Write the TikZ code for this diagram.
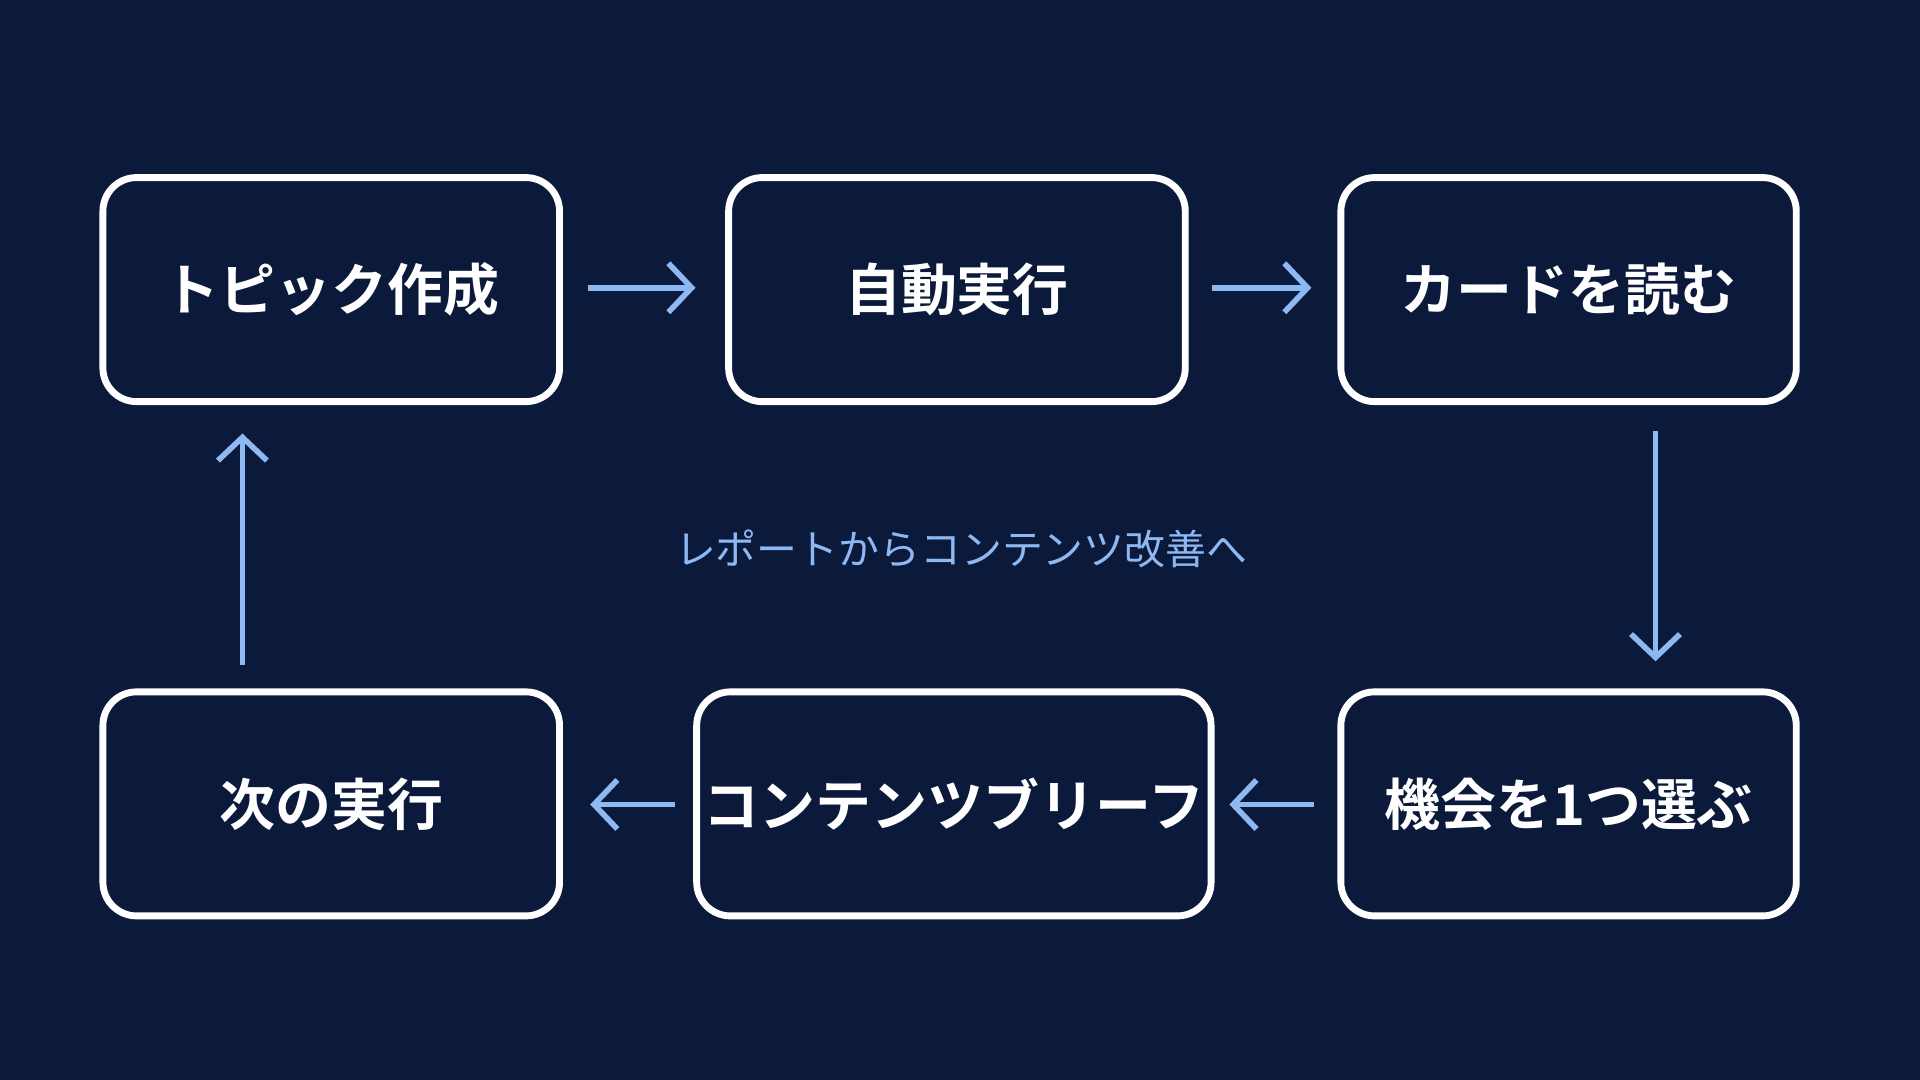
\documentclass[tikz,border=0pt]{standalone}
\usepackage{fontspec}
\setmainfont{Noto Sans CJK JP}
\newfontfamily\jpb{Noto Sans CJK JP Bold}
\usetikzlibrary{arrows.meta}
\definecolor{bg}{HTML}{0B1A3B}
\definecolor{ac}{HTML}{8DB8F2}
\begin{document}
\begin{tikzpicture}[x=0.02cm,y=-0.02cm,
  box/.style={draw=white,line width=3.2pt,rounded corners=0.55cm,text=white,font=\jpb\fontsize{26}{30}\selectfont},
  arr/.style={draw=ac,line width=2.6pt,-{Straight Barb[length=0.38cm,width=0.8cm,line width=2.6pt]}}]
\fill[bg] (0,0) rectangle (1568,882);
\useasboundingbox (0,0) rectangle (1568,882);
\newcommand{\bx}[5]{\node[box,minimum width=#3*0.02cm,minimum height=183*0.02cm] (#1) at (#2) {#4};}
\node[box,minimum width=7.46cm,minimum height=3.66cm] (a) at (270.5,236.5) {トピック作成};
\node[box,minimum width=7.46cm,minimum height=3.66cm] (b) at (781.5,236.5) {自動実行};
\node[box,minimum width=7.44cm,minimum height=3.66cm] (c) at (1281,236.5) {カードを読む};
\node[box,minimum width=7.44cm,minimum height=3.66cm] (f) at (1281,656.5) {機会を1つ選ぶ};
\node[box,minimum width=8.24cm,minimum height=3.66cm] (e) at (779,656.5) {コンテンツブリーフ};
\node[box,minimum width=7.46cm,minimum height=3.66cm] (d) at (270.5,656.5) {次の実行};
\node[text=ac,font=\fontsize{19}{23}\selectfont] (t) at (785,448) {レポートからコンテンツ改善へ};
\coordinate (a1) at (480,235); \coordinate (a2) at (568,235);
\coordinate (b1) at (990,235); \coordinate (b2) at (1071,235);
\coordinate (c1) at (1352,352); \coordinate (c2) at (1352,540);
\coordinate (f1) at (1073,657); \coordinate (f2) at (1004,657);
\coordinate (e1) at (551,657); \coordinate (e2) at (482,657);
\coordinate (d1) at (198,543); \coordinate (d2) at (198,354);
\draw[arr] (a1) -- (a2);
\draw[arr] (b1) -- (b2);
\draw[arr] (c1) -- (c2);
\draw[arr] (f1) -- (f2);
\draw[arr] (e1) -- (e2);
\draw[arr] (d1) -- (d2);
\end{tikzpicture}
\end{document}
